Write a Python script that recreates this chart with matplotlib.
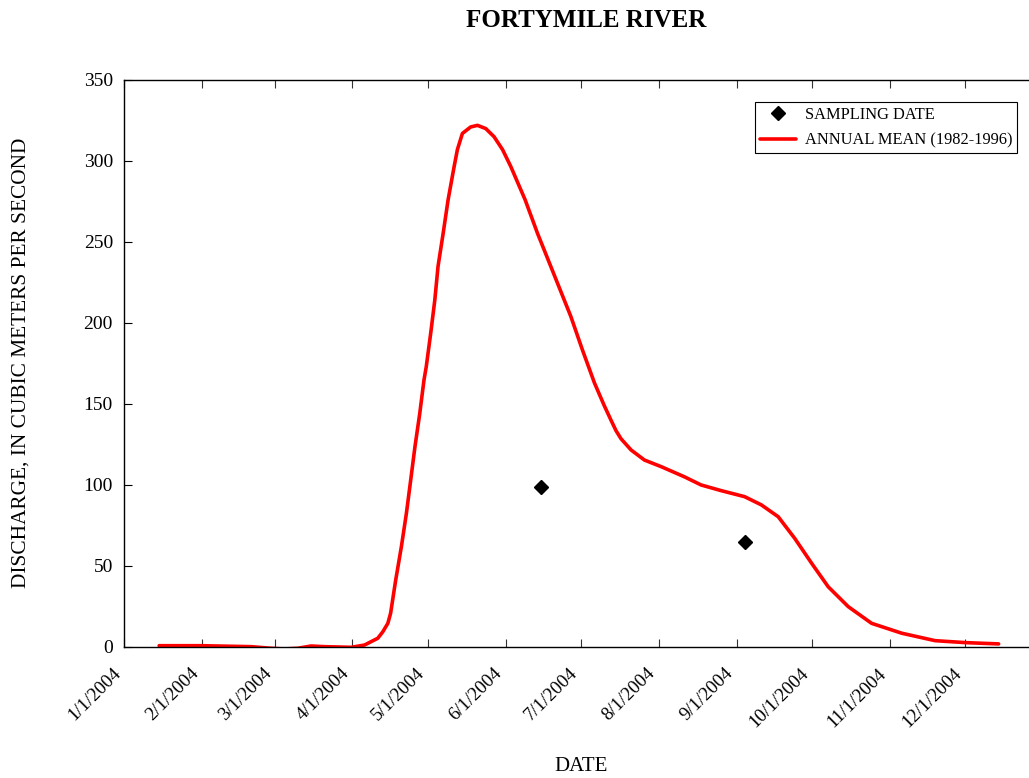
import numpy as np
import matplotlib
matplotlib.use('Agg')
from matplotlib import pyplot as plt
from datetime import datetime, timedelta

plt.rcParams['font.family'] = ['Liberation Serif', 'DejaVu Serif']

# annual mean discharge (1982-1996)
# x = days after 1/1/2004, y = cubic meters per second
mean_day = [14.0, 30.6, 50.6, 58.6, 63.9, 69.2, 74.5, 79.8, 90.5, 95.8,
            101.1, 103.1, 105.1, 106.2, 108.2, 110.5, 112.5, 114.2, 115.9, 117.8, 119.5,
            120.4, 122.2, 123.8, 125.1, 127.1, 129.1, 131.5, 132.8, 134.8, 138.1,
            140.8, 144.1, 147.4, 150.8, 154.1, 159.8, 164.8, 167.4, 172.7, 178.0,
            182.7, 187.4, 191.3, 194.0, 196.0, 198.0, 202.0, 207.3, 214.0, 223.3, 229.9, 237.9,
            247.2, 253.9, 260.6, 267.2, 273.9, 280.5, 288.5, 297.8, 309.8, 323.1,
            335.1, 348.4]
mean_q = [0.8, 0.8, 0.2, -0.8, -1.2, -0.8, 0.6, 0.2, -0.2, 1.2,
          5.4, 9.4, 14.6, 20.8, 41, 62, 82.6, 103, 123.6, 144, 164.8,
          173, 194, 214, 235, 255, 276, 296.5, 307, 317, 321,
          322, 320, 315, 307, 296.5, 276, 255, 245, 224.5, 204,
          183, 163, 149, 140, 133.5, 128.5, 121.6, 115.4, 111.3, 105, 100, 96.5,
          92.8, 87.7, 80.4, 67, 51.7, 37.2, 24.9, 14.6, 8.5, 3.9,
          2.7, 1.9]

# sampling dates
samp_day = [166.3, 247.5]
samp_q = [99, 64.5]

tick_dates = ['2004-%02d-01' % m for m in range(1, 13)]
tick_labels = ['%d/1/2004' % m for m in range(1, 13)]

start = datetime(2004, 1, 1)
def to_dt(days):
    return [start + timedelta(days=d) for d in days]

fig = plt.figure(figsize=(10.29, 7.78), dpi=100)
ax = fig.add_axes([0.1205, 0.1684, 0.8795, 0.7288])

ax.plot(to_dt(samp_day), samp_q, 'D', color='black', markersize=7.5,
        label='SAMPLING DATE', zorder=3)
ax.plot(to_dt(mean_day), mean_q, '-', color='#ff0000', linewidth=2.6,
        label='ANNUAL MEAN (1982-1996)', solid_capstyle='round',
        solid_joinstyle='round')

ax.set_xlim(start, start + timedelta(days=360.5))
ax.set_ylim(0, 350)
ax.set_yticks(np.arange(0, 351, 50))
ax.set_xticks([datetime.strptime(s, '%Y-%m-%d') for s in tick_dates])
ax.set_xticklabels(tick_labels, rotation=45, ha='right', va='top', fontsize=13.5)
ax.tick_params(axis='x', direction='in', length=6, pad=13, top=True, color='#333333')
ax.tick_params(axis='y', direction='in', length=6, labelsize=14, pad=8)
ax.spines['right'].set_visible(False)
for s in ['left', 'bottom', 'top']:
    ax.spines[s].set_linewidth(1.0)

leg = ax.legend(loc='upper right', bbox_to_anchor=(0.9867, 0.9617), fontsize=11.8,
                frameon=True, fancybox=False, edgecolor='black', framealpha=1,
                handlelength=2.2, borderpad=0.3, labelspacing=0.6,
                handletextpad=0.5, borderaxespad=0)
leg.get_frame().set_linewidth(0.8)

fig.text(0.5695, 0.974, 'FORTYMILE RIVER', ha='center', va='center',
         fontsize=18, fontweight='bold')
fig.text(0.565, 0.015, 'DATE', ha='center', va='center', fontsize=15)
fig.text(0.02, 0.534, 'DISCHARGE, IN CUBIC METERS PER SECOND', ha='center',
         va='center', rotation=90, fontsize=15.4)

plt.savefig('out.png', dpi=100)
